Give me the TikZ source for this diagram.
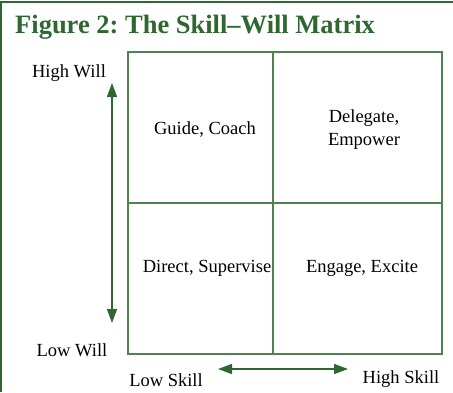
\documentclass[tikz,border=0pt]{standalone}
\usepackage{fontspec}
\setmainfont{Liberation Serif}
\usetikzlibrary{arrows.meta}
\definecolor{dkgreen}{RGB}{46,104,48}
\definecolor{gridgreen}{RGB}{80,130,80}
\frenchspacing
\begin{document}
\begin{tikzpicture}[x=1pt,y=-1pt,
  lbl/.style={font=\fontsize{18.5}{22}\selectfont, text=black, inner sep=0pt},
  cell/.style={font=\fontsize{18.5}{23}\selectfont, text=black, inner sep=0pt, align=center},
  gridline/.style={draw=gridgreen, line width=1.3pt},
  axis/.style={draw=dkgreen, line width=1.3pt, {Triangle[length=14pt,width=10pt]}-{Triangle[length=14pt,width=10pt]}}]
\useasboundingbox (0,0) rectangle (453,392);
% frame
\draw[dkgreen, line width=1.6pt] (1,392) -- (1,2) -- (453,2);
% title
\node[anchor=base west, inner sep=0pt, text=dkgreen, font=\fontsize{26.5}{30}\selectfont\bfseries] (title) at (15,33) {Figure 2: The Skill–Will Matrix};
% grid
\draw[gridline] (128,52) rectangle (442,354);
\draw[gridline] (273,52) -- (273,354);
\draw[gridline] (128,203) -- (442,203);
% cell texts
\node[cell] (q1) at (205,129) {Guide, Coach};
\node[cell] (q2) at (364,130) {Delegate,\\Empower};
\node[cell] (q3) at (207,268) {Direct, Supervise};
\node[cell] (q4) at (362,268) {Engage, Excite};
% axis labels
\node[lbl] (hw) at (69,73) {High Will};
\node[lbl] (lw) at (72,350) {Low Will};
\node[lbl] (ls) at (166,380) {Low Skill};
\node[lbl] (hs) at (401,379) {High Skill};
% arrows
\coordinate (vtop) at (112,83);
\coordinate (vbot) at (112,323);
\coordinate (hl) at (218,369);
\coordinate (hr) at (348,369);
\draw[axis] (vbot) -- (vtop);
\draw[axis] (hl) -- (hr);
\end{tikzpicture}
\end{document}
